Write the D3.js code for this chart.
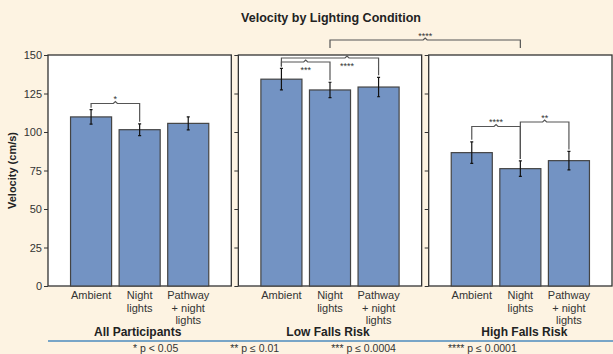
<!DOCTYPE html>
<html>
<head>
<meta charset="utf-8">
<script src="https://cdn.jsdelivr.net/npm/d3@7"></script>
<style>
  body { margin: 0; background: #fdf3e2; }
  svg { display: block; font-family: "Liberation Sans", Arial, sans-serif; }
  .axis text { font-size: 11px; fill: #333; }
  .axis path, .axis line { stroke: #333; }
  .frame { fill: #fff; stroke: #333; stroke-width: 1.3px; }
  .bar { fill: #7393c3; stroke: #444; stroke-width: 1.2px; }
  .err { stroke: #111; stroke-width: 1.2px; fill: none; }
  .bracket { stroke: #555; stroke-width: 1.2px; fill: none; }
  .star { font-size: 9px; fill: #333; text-anchor: middle; }
  .cat { font-size: 11px; fill: #333; text-anchor: middle; }
  .group-title { font-size: 12px; font-weight: bold; fill: #222; text-anchor: middle; }
  .title { font-size: 12.5px; font-weight: bold; fill: #222; text-anchor: middle; }
  .legend { font-size: 10.5px; fill: #333; }
</style>
</head>
<body>
<svg id="chart" width="613" height="354"></svg>
<script>
// data
const groups = ['All Participants', 'Low Falls Risk', 'High Falls Risk'];
const conditions = ['Ambient', 'Night lights', 'Pathway + night lights'];
const conditionLines = [['Ambient'], ['Night', 'lights'], ['Pathway', '+ night', 'lights']];
const allMeans = [109.8, 101.5, 105.6];
const allErr = [4.7, 3.8, 4.2];
const lowMeans = [134.3, 127.3, 129.2];
const lowErr = [7, 5, 6.3];
const highMeans = [86.6, 76.2, 81.4];
const highErr = [7, 5, 6];
const yTicks = [0, 25, 50, 75, 100, 125, 150];
// comparisons: group index, from condition, to condition, stars
const comparisons = [
  [0, 0, 1, '*'],
  [1, 0, 1, '***'],
  [1, 0, 2, '****'],
  [2, 0, 1, '****'],
  [2, 1, 2, '**'],
];
const legendLabels = ['* p < 0.05', '** p \u2264 0.01', '*** p \u2264 0.0004', '**** p \u2264 0.0001'];

const means = [allMeans, lowMeans, highMeans];
const errs = [allErr, lowErr, highErr];

const svg = d3.select('#chart');
const plotTop = 55, plotBottom = 286;

const panel = d3.scaleBand().domain(groups).range([48, 612]).paddingInner(0.037).paddingOuter(0);
const y = d3.scaleLinear().domain([0, 150]).range([plotBottom, plotTop]);

svg.append('text').attr('class', 'title').attr('x', 331).attr('y', 22)
  .text('Velocity by Lighting Condition');

svg.append('text').attr('class', 'title').style('font-size', '11px')
  .attr('transform', 'translate(16,' + (plotTop + plotBottom) / 2 + ') rotate(-90)')
  .text('Velocity (cm/s)');

const xScales = [];

groups.forEach((gname, gi) => {
  const x0 = panel(gname), x1 = x0 + panel.bandwidth();
  const x = d3.scaleBand().domain(conditions).range([x0, x1]).paddingInner(0.155).paddingOuter(0.464);
  xScales.push(x);

  svg.append('rect').attr('class', 'frame')
    .attr('x', x0).attr('y', plotTop).attr('width', x1 - x0).attr('height', plotBottom - plotTop);

  const yAxis = d3.axisLeft(y).tickValues(yTicks).tickSize(4).tickPadding(2);
  if (gi > 0) yAxis.tickFormat('');
  const ya = svg.append('g').attr('class', 'axis')
    .attr('transform', 'translate(' + x0 + ',0)').call(yAxis);
  ya.select('.domain').remove();

  const data = conditions.map((c, i) => ({ c: c, v: means[gi][i], e: errs[gi][i] }));

  svg.append('g').selectAll('rect').data(data).enter().append('rect')
    .attr('class', 'bar')
    .attr('x', d => x(d.c)).attr('width', x.bandwidth())
    .attr('y', d => y(d.v)).attr('height', d => plotBottom - y(d.v));

  const eg = svg.append('g').selectAll('g').data(data).enter().append('g')
    .attr('transform', d => 'translate(' + (x(d.c) + x.bandwidth() / 2) + ',0)');
  eg.append('path').attr('class', 'err')
    .attr('d', d => 'M0,' + y(d.v + d.e) + 'V' + y(d.v - d.e) +
      'M-1.5,' + y(d.v + d.e) + 'h3M-1.5,' + y(d.v - d.e) + 'h3');

  // category labels
  const cg = svg.append('g').selectAll('text').data(conditions).enter().append('text')
    .attr('class', 'cat')
    .attr('x', d => x(d) + x.bandwidth() / 2).attr('y', 299);
  cg.selectAll('tspan').data((d, i) => conditionLines[i]).enter().append('tspan')
    .attr('x', function () { return d3.select(this.parentNode).attr('x'); })
    .attr('dy', (d, i) => i === 0 ? 0 : 12.5)
    .text(d => d);

  svg.append('text').attr('class', 'group-title')
    .attr('x', (x0 + x1) / 2 + (gi === 2 ? 4 : -2)).attr('y', 336).text(gname);
});

// significance brackets
const bracketY = [103.5, 62, 58, 126.5, 122];
const labelAbove = [true, false, false, true, true];
const notchShift = [0, 0, 17, 0, 0];
comparisons.forEach((cmp, k) => {
  const [gi, a, b, lab] = cmp;
  const x = xScales[gi];
  const xa = x(conditions[a]) + x.bandwidth() / 2;
  const xb = x(conditions[b]) + x.bandwidth() / 2;
  const ya = y(means[gi][a] + errs[gi][a]) - 2;
  const yb = y(means[gi][b] + errs[gi][b]) - 2;
  const by = bracketY[k];
  const cx = (xa + xb) / 2 + notchShift[k];
  svg.append('path').attr('class', 'bracket')
    .attr('d', 'M' + xa + ',' + ya + 'V' + by + 'H' + (cx - 2) + 'L' + cx + ',' + (by - 2) +
      'L' + (cx + 2) + ',' + by + 'H' + xb + 'V' + yb);
  svg.append('text').attr('class', 'star')
    .attr('x', cx).attr('y', labelAbove[k] ? by - 1.5 : by + 11)
    .text(lab);
});

// cross-panel bracket between Night lights in low vs high risk
{
  const xa = xScales[1](conditions[1]) + xScales[1].bandwidth() / 2;
  const xb = xScales[2](conditions[1]) + xScales[2].bandwidth() / 2;
  const by = 40, leg = 48, cx = (xa + xb) / 2;
  svg.append('path').attr('class', 'bracket')
    .attr('d', 'M' + xa + ',' + leg + 'V' + by + 'H' + (cx - 2) + 'L' + cx + ',' + (by - 2) +
      'L' + (cx + 2) + ',' + by + 'H' + xb + 'V' + leg);
  svg.append('text').attr('class', 'star').attr('x', cx).attr('y', by - 1.5).text('****');
}

// divider line and legend
svg.append('line').attr('x1', 48).attr('x2', 613).attr('y1', 341).attr('y2', 341)
  .attr('stroke', '#4b8bbe').attr('stroke-width', 1.5);

let lx = 133;
legendLabels.forEach(t => {
  const el = svg.append('text').attr('class', 'legend').attr('x', lx).attr('y', 352).text(t);
  lx += el.node().getComputedTextLength() + 52;
});
</script>
</body>
</html>
